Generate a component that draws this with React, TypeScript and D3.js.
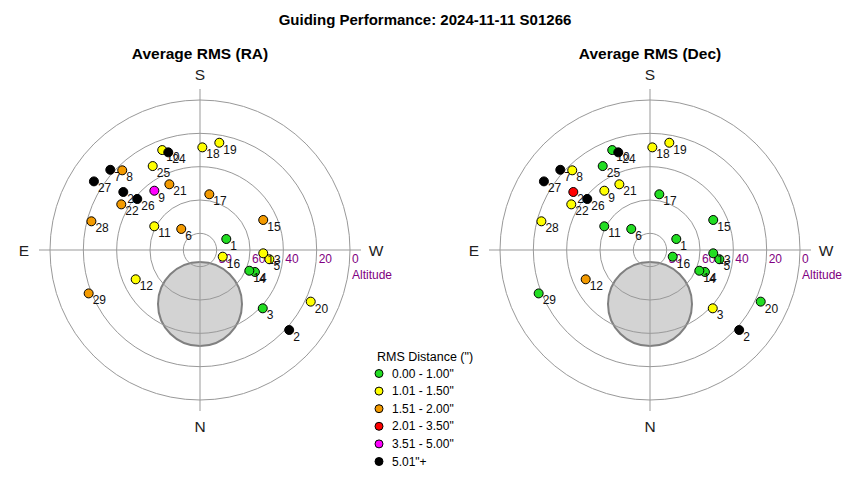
import * as d3 from 'd3'
import React, { useEffect, useRef } from 'react'

// guide points: id, altitude (deg), azimuth (deg), rms class for RA and Dec
const pointIds = [1, 2, 3, 4, 5, 6, 7, 8, 9, 10, 11, 12, 13, 14, 15, 16, 17, 18, 19, 20, 21, 22, 23, 24, 25, 26, 27, 28, 29]
const altitudes = [72.9, 18.1, 38.6, 54.5, 48.0, 73.1, 17.8, 23.2, 45.1, 25.9, 59.1, 47.6, 52.0, 57.9, 48.0, 75.8, 56.1, 28.4, 24.6, 16.7, 46.5, 35.4, 32.3, 28.4, 32.2, 41.5, 14.2, 22.6, 18.3]
const azimuths = [247.3, 311.9, 312.9, 291.8, 277.6, 138.3, 131.8, 135.7, 142.4, 159.3, 117.4, 65.5, 273.0, 292.8, 244.6, 286.4, 189.5, 181.3, 190.2, 295.0, 155.0, 120.1, 127.1, 162.0, 150.6, 129.1, 122.9, 104.8, 68.7]
const raClass = [0, 5, 0, 0, 1, 2, 5, 2, 4, 1, 1, 1, 1, 0, 2, 1, 2, 1, 1, 1, 2, 2, 5, 5, 1, 5, 5, 2, 2]
const decClass = [0, 5, 1, 0, 0, 0, 5, 1, 1, 0, 0, 2, 0, 0, 0, 0, 0, 1, 1, 0, 1, 1, 3, 5, 0, 5, 5, 1, 0]

const binLabels = ['0.00 - 1.00"', '1.01 - 1.50"', '1.51 - 2.00"', '2.01 - 3.50"', '3.51 - 5.00"', '5.01"+']
const binColors = ['#22dd22', '#ffff00', '#f39a00', '#ff0000', '#ff00ff', '#000000']

const altTicks = [0, 20, 40, 60, 80]
const directions = [
    { label: 'N', az: 0 },
    { label: 'E', az: 90 },
    { label: 'S', az: 180 },
    { label: 'W', az: 270 },
]

// excluded zone near the pole (alt/az of centre, angular radius)
const zoneAlt = 57.6
const zoneAz = 0
const zoneRadiusDeg = 25.2

const FONT = "Arial, 'Liberation Sans', sans-serif"

const App = (): JSX.Element => {
    const ref = useRef<SVGSVGElement>(null)
    const width = 850
    const height = 480

    useEffect(() => {
        const svg = d3.select(ref.current)
        svg.selectAll('*').remove()

        svg.append('rect').attr('width', width).attr('height', height).attr('fill', '#fff')

        svg.append('text')
            .attr('x', 425)
            .attr('y', 25)
            .attr('text-anchor', 'middle')
            .attr('font-family', FONT)
            .attr('font-weight', 'bold')
            .attr('font-size', 15)
            .text('Guiding Performance: 2024-11-11 S01266')

        const rScale = d3.scaleLinear().domain([90, 0]).range([0, 150])
        const colour = d3.scaleOrdinal<number, string>().domain(d3.range(binColors.length)).range(binColors)

        const drawPlot = (cx: number, title: string, classes: number[]) => {
            const cy = 250
            const pos = (alt: number, az: number) => {
                const r = rScale(alt)
                const a = (az * Math.PI) / 180
                return [cx - r * Math.sin(a), cy + r * Math.cos(a)]
            }
            const g = svg.append('g')

            g.append('text')
                .attr('x', cx)
                .attr('y', 59)
                .attr('text-anchor', 'middle')
                .attr('font-family', FONT)
                .attr('font-weight', 'bold')
                .attr('font-size', 15.5)
                .text(title)

            // pole zone
            const [zx, zy] = pos(zoneAlt, zoneAz)
            g.append('circle')
                .attr('cx', zx)
                .attr('cy', zy)
                .attr('r', rScale(90 - zoneRadiusDeg))
                .attr('fill', '#d3d3d3')
                .attr('stroke', '#808080')
                .attr('stroke-width', 2)

            // rings
            g.selectAll('circle.ring')
                .data(altTicks)
                .enter()
                .append('circle')
                .attr('class', 'ring')
                .attr('cx', cx)
                .attr('cy', cy)
                .attr('r', (d) => rScale(d))
                .attr('fill', 'none')
                .attr('stroke', '#999')
                .attr('stroke-width', 1)

            const ext = rScale(0) + 11
            g.append('line')
                .attr('x1', cx - ext)
                .attr('x2', cx + ext)
                .attr('y1', cy)
                .attr('y2', cy)
                .attr('stroke', '#999')
            g.append('line')
                .attr('x1', cx)
                .attr('x2', cx)
                .attr('y1', cy - ext)
                .attr('y2', cy + ext)
                .attr('stroke', '#999')

            // ring labels
            g.selectAll('text.alt')
                .data(altTicks)
                .enter()
                .append('text')
                .attr('class', 'alt')
                .attr('x', (d) => cx + rScale(d) + 2)
                .attr('y', cy + 13)
                .attr('font-family', FONT)
                .attr('font-size', 12)
                .attr('fill', '#800080')
                .text((d) => d)

            g.append('text')
                .attr('x', cx + rScale(0) + 2)
                .attr('y', cy + 29)
                .attr('font-family', FONT)
                .attr('font-size', 12)
                .attr('fill', '#800080')
                .text('Altitude')

            directions.forEach((dir) => {
                const [x, y] = pos(-15.6, dir.az)
                g.append('text')
                    .attr('x', x)
                    .attr('y', y + 5.5)
                    .attr('text-anchor', 'middle')
                    .attr('font-family', FONT)
                    .attr('font-size', 15.5)
                    .attr('fill', '#222')
                    .text(dir.label)
            })

            pointIds.forEach((id, i) => {
                const [x, y] = pos(altitudes[i], azimuths[i])
                g.append('circle')
                    .attr('cx', x)
                    .attr('cy', y)
                    .attr('r', 4.5)
                    .attr('fill', colour(classes[i]))
                    .attr('stroke', '#000')
                    .attr('stroke-width', 1)
                g.append('text')
                    .attr('x', x + 4)
                    .attr('y', y + 11)
                    .attr('font-family', FONT)
                    .attr('font-size', 12)
                    .attr('fill', '#111')
                    .text(id)
            })
        }

        drawPlot(200, 'Average RMS (RA)', raClass)
        drawPlot(650, 'Average RMS (Dec)', decClass)

        // legend
        const legend = svg.append('g')
        legend.append('text')
            .attr('x', 377)
            .attr('y', 361)
            .attr('font-family', FONT)
            .attr('font-size', 12.5)
            .text('RMS Distance (")')
        const rowY = d3.scaleLinear().domain([0, 1]).range([373.5, 391.1])
        binLabels.forEach((label, i) => {
            legend.append('circle')
                .attr('cx', 379)
                .attr('cy', rowY(i))
                .attr('r', 4)
                .attr('fill', binColors[i])
                .attr('stroke', '#000')
            legend.append('text')
                .attr('x', 392)
                .attr('y', rowY(i) + 4)
                .attr('font-family', FONT)
                .attr('font-size', 12)
                .text(label)
        })
    }, [])

    return (
        <svg
            ref={ref}
            width={width}
            height={height}
            style={{ position: 'absolute', left: 0, top: 0 }}
        />
    )
}

export default App
